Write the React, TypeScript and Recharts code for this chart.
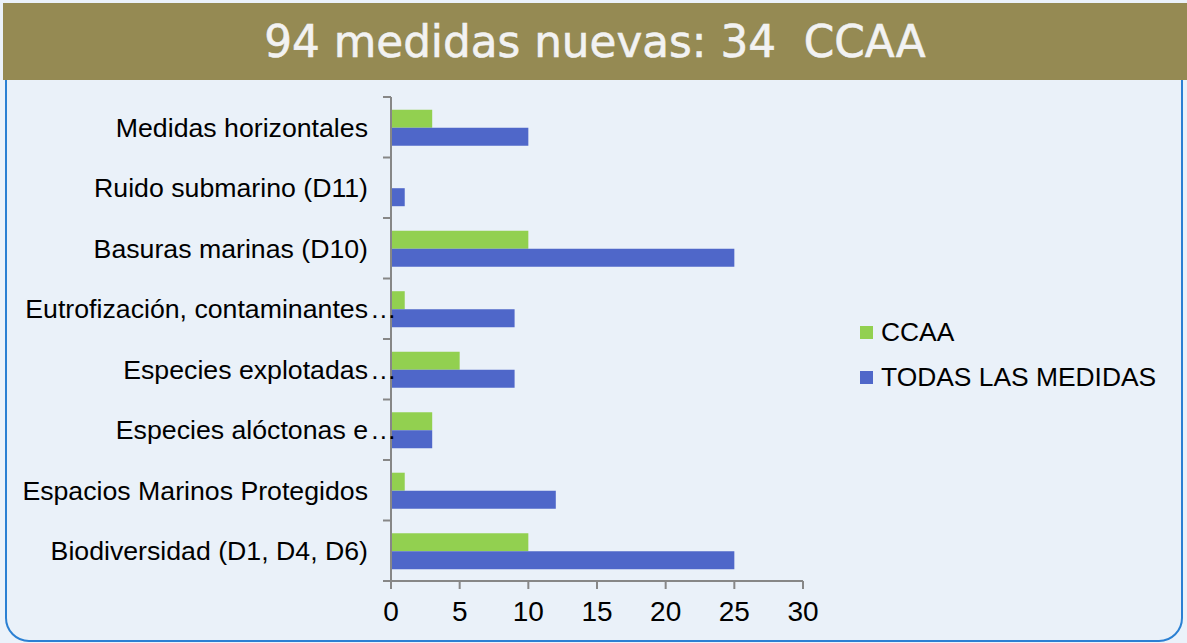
import React from "react";
import { BarChart, Bar, XAxis, YAxis, Legend } from "recharts";

// values, top row first
const CATEGORIES = [
  "Medidas horizontales",
  "Ruido submarino (D11)",
  "Basuras marinas (D10)",
  "Eutrofización, contaminantes…",
  "Especies explotadas…",
  "Especies alóctonas e…",
  "Espacios Marinos Protegidos",
  "Biodiversidad (D1, D4, D6)",
];
const CCAA = [3, 0, 10, 1, 5, 3, 1, 10];
const TODAS = [10, 1, 25, 9, 9, 3, 12, 25];
const X_TICKS = [0, 5, 10, 15, 20, 25, 30];

const data = CATEGORIES.map((name, i) => ({ name, ccaa: CCAA[i], todas: TODAS[i] }));

const AXIS_COLOR = "#878787";
const TICK_SIZE = 8;
const TICK_MARGIN = 15;
const LABEL_FONT = "'Liberation Sans', Arial, sans-serif";

const CategoryTick = (props: any) => {
  const { x, y, payload, index, visibleTicksCount } = props;
  const half = payload && typeof payload.offset === "number" && payload.offset > 0 ? payload.offset : 30;
  const lineX1 = x + TICK_MARGIN;
  const lineX2 = lineX1 + TICK_SIZE;
  const label: string = String(payload.value);
  const cut = label.endsWith("…");
  const base = cut ? label.slice(0, -1) : label;
  return (
    <g>
      <line x1={lineX1} x2={lineX2} y1={y - half} y2={y - half} stroke={AXIS_COLOR} strokeWidth={2} />
      {index === visibleTicksCount - 1 && (
        <line x1={lineX1} x2={lineX2} y1={y + half} y2={y + half} stroke={AXIS_COLOR} strokeWidth={2} />
      )}
      <text x={x} y={y} dy="0.35em" textAnchor="end" fill="#000" fontSize={26.7} fontFamily={LABEL_FONT}>
        {base}
      </text>
      {cut && (
        <text x={x + 2} y={y} dy="0.35em" textAnchor="start" fill="#000" fontSize={26.7} fontFamily={LABEL_FONT}>
          …
        </text>
      )}
    </g>
  );
};

const LegendBox = (props: any) => {
  const items = props.payload || [];
  return (
    <div style={{ fontFamily: LABEL_FONT, fontSize: 26.4, color: "#000" }}>
      {items.map((p: any) => (
        <div key={p.value} style={{ display: "flex", alignItems: "center", height: 45 }}>
          <span style={{ width: 13, height: 13, background: p.color, marginRight: 8, display: "inline-block" }} />
          <span>{p.value}</span>
        </div>
      ))}
    </div>
  );
};

export default function App() {
  return (
    <div
      style={{
        position: "absolute",
        left: 0,
        top: 0,
        width: 1187,
        height: 643,
        background: "#EBF2FA",
        overflow: "hidden",
      }}
    >
      <div
        style={{
          position: "absolute",
          left: 5,
          top: 55,
          width: 1174,
          height: 583,
          border: "2px solid #2B80D3",
          borderRadius: 24,
          background: "#EAF1F9",
        }}
      />
      <div
        style={{
          position: "absolute",
          left: 3,
          top: 3,
          width: 1184,
          height: 77,
          background: "#958A53",
          color: "#F2F2F2",
          fontFamily: "'DejaVu Sans', Verdana, sans-serif",
          fontSize: 43.7,
          lineHeight: "77px",
          textAlign: "center",
          whiteSpace: "pre",
          WebkitTextStroke: "0.6px #F2F2F2",
        }}
      >
        {"94 medidas nuevas: 34  CCAA"}
      </div>
      <div style={{ position: "absolute", left: 0, top: 0 }}>
        <BarChart
          width={1187}
          height={643}
          data={data}
          layout="vertical"
          margin={{ top: 97, right: 384, bottom: 0, left: 0 }}
          barCategoryGap="21%"
          barGap={0}
        >
          <XAxis
            type="number"
            domain={[0, 30]}
            ticks={X_TICKS}
            interval={0}
            height={62}
            axisLine={{ stroke: AXIS_COLOR, strokeWidth: 2 }}
            tickLine={{ stroke: AXIS_COLOR, strokeWidth: 2 }}
            tickSize={8}
            tickMargin={12}
            tick={{ fill: "#000", fontSize: 28, fontFamily: LABEL_FONT }}
          />
          <YAxis
            type="category"
            dataKey="name"
            width={391}
            interval={0}
            axisLine={{ stroke: AXIS_COLOR, strokeWidth: 2 }}
            tickLine={false}
            tickSize={TICK_SIZE}
            tickMargin={TICK_MARGIN}
            tick={<CategoryTick />}
          />
          <Legend
            layout="vertical"
            align="center"
            verticalAlign="middle"
            wrapperStyle={{ left: 860, top: 310, width: 320 }}
            content={<LegendBox />}
          />
          <Bar dataKey="ccaa" name="CCAA" fill="#92D050" isAnimationActive={false} />
          <Bar dataKey="todas" name="TODAS LAS MEDIDAS" fill="#4F67C9" isAnimationActive={false} />
        </BarChart>
      </div>
    </div>
  );
}
